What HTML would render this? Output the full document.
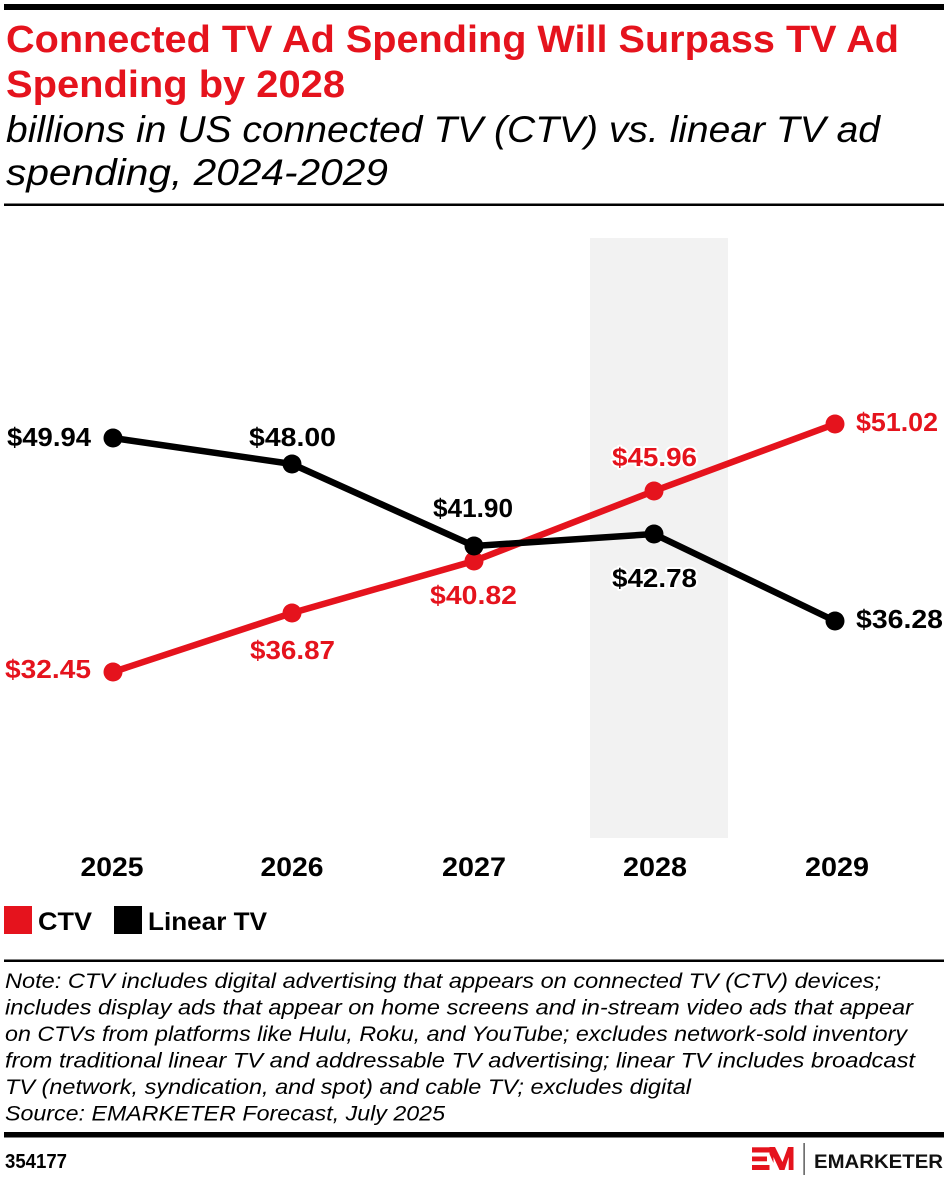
<!DOCTYPE html>
<html><head><meta charset="utf-8"><style>
html,body{margin:0;padding:0;background:#fff;}
svg{display:block;}
text{font-family:"Liberation Sans",Arial,sans-serif;}
.lbl{font-weight:bold;font-size:26px;paint-order:stroke;stroke:#fff;stroke-width:4px;stroke-linejoin:round;}
.yr{font-weight:bold;font-size:27px;fill:#000;}
.note{font-style:italic;font-size:21px;fill:#000;}
</style></head><body>
<svg width="948" height="1180" viewBox="0 0 948 1180" xmlns="http://www.w3.org/2000/svg">
<rect x="0" y="0" width="948" height="1180" fill="#fff"/>
<!-- top bar -->
<rect x="4" y="4" width="940" height="6" fill="#000"/>
<!-- title -->
<text x="6" y="52" font-size="38" font-weight="bold" fill="#e5131d" textLength="893" lengthAdjust="spacingAndGlyphs">Connected TV Ad Spending Will Surpass TV Ad</text>
<text x="6" y="97" font-size="38" font-weight="bold" fill="#e5131d" textLength="339" lengthAdjust="spacingAndGlyphs">Spending by 2028</text>
<text x="6" y="142" font-size="37" font-style="italic" fill="#000" textLength="874" lengthAdjust="spacingAndGlyphs">billions in US connected TV (CTV) vs. linear TV ad</text>
<text x="6" y="185" font-size="37" font-style="italic" fill="#000" textLength="382" lengthAdjust="spacingAndGlyphs">spending, 2024-2029</text>
<rect x="4" y="203.5" width="940" height="2.5" fill="#000"/>

<!-- highlight band -->
<rect x="590" y="238" width="138" height="600" fill="#f2f2f2"/>

<!-- CTV line -->
<polyline points="113,672 292,613 474,561 654,491 835,424" fill="none" stroke="#e5131d" stroke-width="6.5" stroke-linejoin="round"/>
<g fill="#e5131d">
<circle cx="113" cy="672" r="9.5"/><circle cx="292" cy="613" r="9.5"/><circle cx="474" cy="561" r="9.5"/><circle cx="654" cy="491" r="9.5"/><circle cx="835" cy="424" r="9.5"/>
</g>
<!-- Linear line -->
<polyline points="113,438 292,464 474,546 654,534 835,621" fill="none" stroke="#000" stroke-width="6.5" stroke-linejoin="round"/>
<g fill="#000">
<circle cx="113" cy="438" r="9.5"/><circle cx="292" cy="464" r="9.5"/><circle cx="474" cy="546" r="9.5"/><circle cx="654" cy="534" r="9.5"/><circle cx="835" cy="621" r="9.5"/>
</g>

<!-- labels -->
<text class="lbl" x="7" y="446" fill="#000" textLength="84" lengthAdjust="spacingAndGlyphs">$49.94</text>
<text class="lbl" x="249" y="446" fill="#000" textLength="87" lengthAdjust="spacingAndGlyphs">$48.00</text>
<text class="lbl" x="433" y="517" fill="#000" textLength="80" lengthAdjust="spacingAndGlyphs">$41.90</text>
<text class="lbl" x="612" y="587" fill="#000" textLength="85" lengthAdjust="spacingAndGlyphs">$42.78</text>
<text class="lbl" x="856" y="628" fill="#000" textLength="87" lengthAdjust="spacingAndGlyphs">$36.28</text>
<text class="lbl" x="5" y="678" fill="#e5131d" textLength="86" lengthAdjust="spacingAndGlyphs">$32.45</text>
<text class="lbl" x="250" y="659" fill="#e5131d" textLength="85" lengthAdjust="spacingAndGlyphs">$36.87</text>
<text class="lbl" x="430" y="604" fill="#e5131d" textLength="87" lengthAdjust="spacingAndGlyphs">$40.82</text>
<text class="lbl" x="612" y="466" fill="#e5131d" textLength="85" lengthAdjust="spacingAndGlyphs">$45.96</text>
<text class="lbl" x="856" y="431" fill="#e5131d" textLength="82" lengthAdjust="spacingAndGlyphs">$51.02</text>

<!-- x axis years -->
<text class="yr" x="112" y="876" text-anchor="middle" textLength="63" lengthAdjust="spacingAndGlyphs">2025</text>
<text class="yr" x="292" y="876" text-anchor="middle" textLength="63" lengthAdjust="spacingAndGlyphs">2026</text>
<text class="yr" x="474" y="876" text-anchor="middle" textLength="64" lengthAdjust="spacingAndGlyphs">2027</text>
<text class="yr" x="655" y="876" text-anchor="middle" textLength="64" lengthAdjust="spacingAndGlyphs">2028</text>
<text class="yr" x="837" y="876" text-anchor="middle" textLength="64" lengthAdjust="spacingAndGlyphs">2029</text>

<!-- legend -->
<rect x="4" y="906" width="28" height="28" fill="#e5131d"/>
<text x="38" y="930" font-size="25" font-weight="bold" fill="#000" textLength="54" lengthAdjust="spacingAndGlyphs">CTV</text>
<rect x="114" y="906" width="28" height="28" fill="#000"/>
<text x="148" y="930" font-size="25" font-weight="bold" fill="#000" textLength="119" lengthAdjust="spacingAndGlyphs">Linear TV</text>

<rect x="4" y="959.5" width="940" height="2.5" fill="#000"/>

<!-- note -->
<text class="note" x="5" y="988" textLength="876" lengthAdjust="spacingAndGlyphs">Note: CTV includes digital advertising that appears on connected TV (CTV) devices;</text>
<text class="note" x="5" y="1014.5" textLength="908" lengthAdjust="spacingAndGlyphs">includes display ads that appear on home screens and in-stream video ads that appear</text>
<text class="note" x="5" y="1041" textLength="902" lengthAdjust="spacingAndGlyphs">on CTVs from platforms like Hulu, Roku, and YouTube; excludes network-sold inventory</text>
<text class="note" x="5" y="1067.5" textLength="910" lengthAdjust="spacingAndGlyphs">from traditional linear TV and addressable TV advertising; linear TV includes broadcast</text>
<text class="note" x="5" y="1094" textLength="686" lengthAdjust="spacingAndGlyphs">TV (network, syndication, and spot) and cable TV; excludes digital</text>
<text class="note" x="5" y="1120.5" textLength="440" lengthAdjust="spacingAndGlyphs">Source: EMARKETER Forecast, July 2025</text>

<!-- bottom bar -->
<rect x="4" y="1132" width="940" height="5.5" fill="#000"/>
<text x="5" y="1168" font-size="20" font-weight="bold" fill="#000" textLength="62" lengthAdjust="spacingAndGlyphs">354177</text>

<!-- logo -->
<g fill="#e5131d">
<rect x="752" y="1147.3" width="17.5" height="5.2"/>
<rect x="752" y="1156.5" width="15" height="4.8"/>
<rect x="752" y="1165" width="17.5" height="5"/>
<polygon points="769.5,1147 775,1147 782.5,1162 788,1147 793.5,1147 793.5,1170 788.7,1170 788.7,1157 784.5,1170 779.5,1170 773.5,1157 773.5,1163 769.5,1154"/>
</g>
<rect x="803.5" y="1143" width="1.2" height="32" fill="#333"/>
<text x="814" y="1168" font-size="19" font-weight="bold" fill="#111" textLength="129" lengthAdjust="spacingAndGlyphs">EMARKETER</text>
</svg>
</body></html>
